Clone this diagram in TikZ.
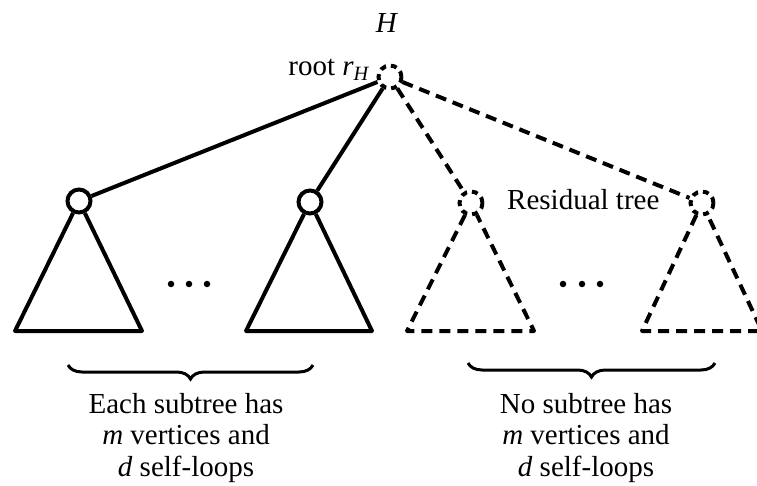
\documentclass[tikz,border=0pt]{standalone}
\usepackage{fontspec}
\setmainfont{Liberation Serif}
\usetikzlibrary{decorations.pathreplacing}
\begin{document}
\begin{tikzpicture}[x=1pt,y=-1pt,
  lw/.style={line width=4pt},
  vtx/.style={circle,draw,lw,minimum size=23pt,inner sep=0pt},
  dsh/.style={dash pattern=on 11pt off 7pt},
  rdsh/.style={dash pattern=on 6pt off 5pt},
  lbl/.style={font=\fontsize{29}{31.5}\selectfont,inner sep=0pt},
  brc/.style={line width=3pt,decorate,decoration={brace,mirror,amplitude=14pt}},
  dot/.style={circle,fill,minimum size=6.5pt,inner sep=0pt}]
\useasboundingbox (0,0) rectangle (757,486);
\node[vtx,rdsh] (r) at (390,77) {};
\node[vtx] (c1) at (79,201) {};
\node[vtx] (c2) at (310,202) {};
\node[vtx,rdsh] (c3) at (471,203) {};
\node[vtx,rdsh] (c4) at (702,203) {};
\coordinate (a1) at (15,331); \coordinate (b1) at (142,331);
\coordinate (a2) at (246,331); \coordinate (b2) at (372,331);
\coordinate (a3) at (407,331); \coordinate (b3) at (534,331);
\coordinate (a4) at (642,331); \coordinate (b4) at (762,331);
\draw[lw] (r) -- (c1);
\draw[lw] (r) -- (c2);
\draw[lw,dsh] (r) -- (c3);
\draw[lw,dsh] (r) -- (c4);
\draw[lw,line join=round] (c1) -- (a1) -- (b1) -- (c1);
\draw[lw,line join=round] (c2) -- (a2) -- (b2) -- (c2);
\draw[lw,dsh,line join=round] (c3) -- (a3) -- (b3) -- (c3);
\draw[lw,dsh,line join=round] (c4) -- (a4) -- (b4) -- (c4);
\node[dot] (d1) at (171,284) {}; \node[dot] (d2) at (189,284) {}; \node[dot] (d3) at (207,284) {};
\node[dot] (d4) at (563,284) {}; \node[dot] (d5) at (582,284) {}; \node[dot] (d6) at (600,284) {};
\node[lbl,anchor=base] (H) at (387,33) {\textit{H}};
\node[lbl,anchor=base east] (rl) at (370,76) {root \textit{r}\textsubscript{\textit{H}}};
\node[lbl,anchor=base west] (res) at (507,210) {Residual tree};
\coordinate (bl1) at (68,365); \coordinate (br1) at (313,365);
\coordinate (bl2) at (468,363); \coordinate (br2) at (715,363);
\draw[brc] (bl1) -- (br1);
\draw[brc] (bl2) -- (br2);
\node[lbl,align=center,anchor=base] (t1) at (186,476) {Each subtree has\\\textit{m} vertices and\\\textit{d} self-loops};
\node[lbl,align=center,anchor=base] (t2) at (586,476) {No subtree has\\\textit{m} vertices and\\\textit{d} self-loops};
\end{tikzpicture}
\end{document}
